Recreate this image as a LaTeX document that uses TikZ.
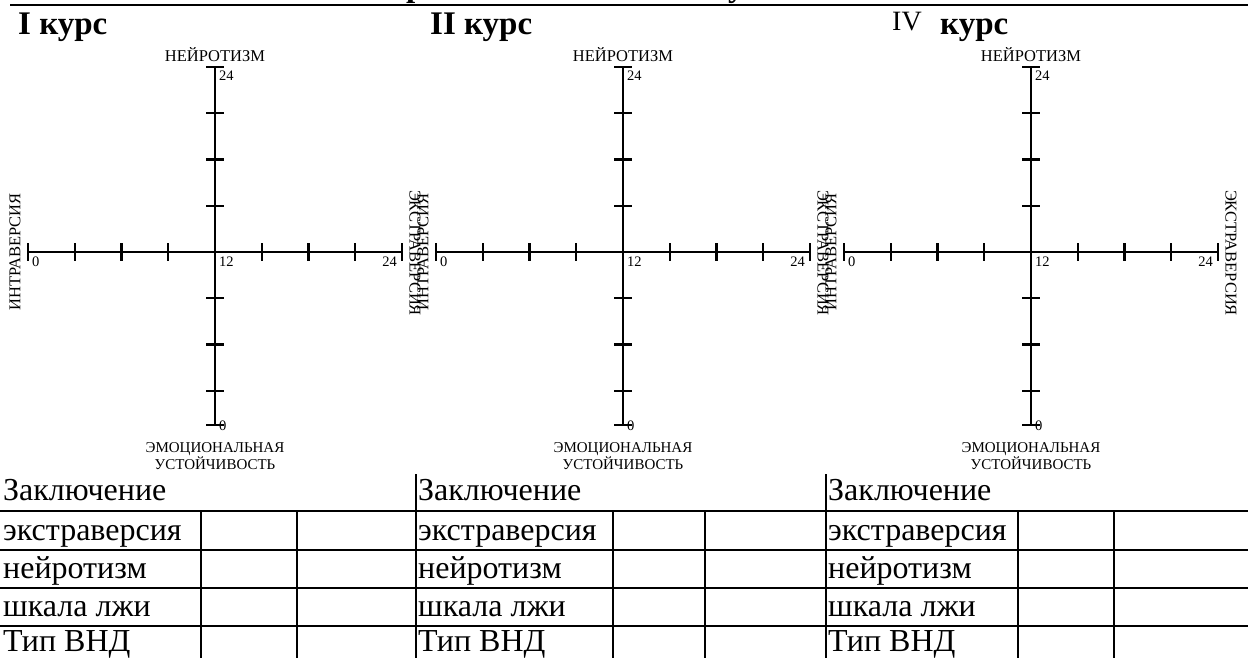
\documentclass[tikz,border=0pt]{standalone}
\usepackage{fontspec}
\setmainfont{Liberation Serif}
\begin{document}
\begin{tikzpicture}[x=1pt,y=-1pt,
  axisline/.style={line width=2.6pt},
  tickmark/.style={line width=2.4pt},
  rule/.style={line width=2pt},
  axlabel/.style={inner sep=0pt,font=\fontsize{16.5}{16.5}\selectfont},
  numlabel/.style={inner sep=0pt,font=\fontsize{14.5}{14.5}\selectfont},
  coursetitle/.style={inner sep=0pt,anchor=base west,font=\fontsize{33}{33}\selectfont\bfseries},
  celltext/.style={inner sep=0pt,anchor=base west,font=\fontsize{32}{32}\selectfont}]
\useasboundingbox (0,0) rectangle (1248,658);
\fill[white] (0,0) rectangle (1248,658);
% title fragments and top rule
\begin{scope}
\clip (0,0) rectangle (1248,658);
\node[coursetitle] (frag1) at (406,-3) {р};
\node[coursetitle] (frag2) at (728,-3) {у};
\end{scope}
\coordinate (topL) at (10,5);
\coordinate (topR) at (1248,5);
\draw[rule] (topL) -- (topR);
% course titles
\node[coursetitle] (t1) at (18,35) {I курс};
\node[coursetitle] (t2) at (430,35) {II курс};
\node[coursetitle,font=\fontsize{28}{28}\selectfont] (t3a) at (892,31) {IV};
\node[coursetitle] (t3b) at (940,35) {курс};
% charts
\foreach \i/\cx in {1/215,2/623,3/1031}{
  \coordinate (L\i) at (\cx-187,252);
  \coordinate (R\i) at (\cx+187,252);
  \coordinate (T\i) at (\cx,67);
  \coordinate (B\i) at (\cx,425);
  \draw[axisline] (L\i) -- (R\i);
  \draw[axisline] (T\i) -- (B\i);
  \foreach \k in {-4,...,4}{
    \draw[tickmark] (\cx+\k*46.75,243) -- (\cx+\k*46.75,261);
  }
  \foreach \k in {-4,...,3}{
    \draw[tickmark] (\cx-9,252+\k*46.25) -- (\cx+9,252+\k*46.25);
  }
  \draw[tickmark] (\cx-9,425) -- (\cx+9,425);
  \node[axlabel,anchor=base] (n\i) at (\cx,62) {НЕЙРОТИЗМ};
  \node[numlabel,anchor=north west] (top\i) at (\cx+4,71) {24};
  \node[numlabel,anchor=north west] (zl\i) at (\cx-183,257) {0};
  \node[numlabel,anchor=north west] (mid\i) at (\cx+4,257) {12};
  \node[numlabel,anchor=north east] (rr\i) at (\cx+182,257) {24};
  \node[numlabel,anchor=north west] (zb\i) at (\cx+4,421) {0};
  \node[inner sep=0pt,anchor=north,align=center,
        font=\fontsize{15}{15}\selectfont] (e\i) at (\cx,442) {ЭМОЦИОНАЛЬНАЯ\\УСТОЙЧИВОСТЬ};
  \node[axlabel,rotate=90] (in\i) at (\cx-200,252) {ИНТРАВЕРСИЯ};
  \node[axlabel,rotate=-90] (ex\i) at (\cx+200,253) {ЭКСТРАВЕРСИЯ};
}
% tables
\foreach \y in {511,550,588,626}{
  \draw[rule] (0,\y) -- (1248,\y);
}
\foreach \x in {201,297,613,705,1018,1114}{
  \draw[rule] (\x,511) -- (\x,658);
}
\foreach \x in {416,826}{
  \draw[rule] (\x,474) -- (\x,658);
}
\foreach \j/\tx in {1/3,2/418,3/828}{
  \node[celltext] (z\j) at (\tx,500) {Заключение};
  \node[celltext] (r1\j) at (\tx,540) {экстраверсия};
  \node[celltext] (r2\j) at (\tx,578) {нейротизм};
  \node[celltext] (r3\j) at (\tx,616) {шкала лжи};
  \node[celltext] (r4\j) at (\tx,651) {Тип ВНД};
}
\end{tikzpicture}
\end{document}
